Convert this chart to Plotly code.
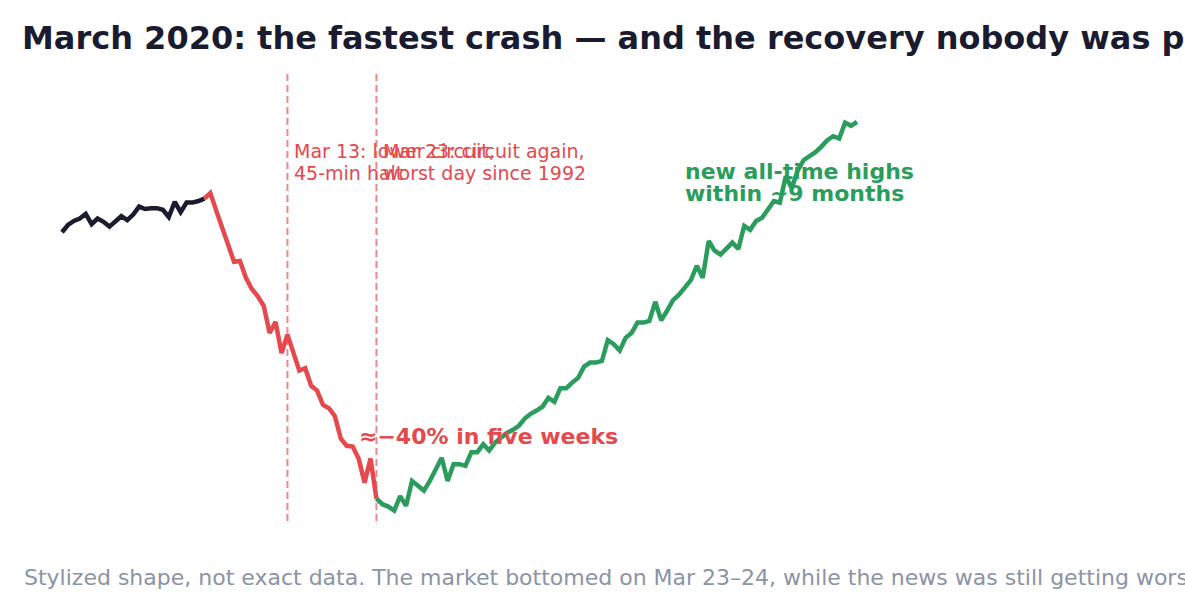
import plotly.graph_objects as go

# ---- data (stylized index level, peak = 100) ----
pre_values = [95.1, 96.0, 96.5, 96.8, 97.4, 96.1, 96.8, 96.4, 95.8, 96.4,
              97.1, 96.6, 97.3, 98.3, 98.0, 98.1, 98.1, 97.9, 97.0, 98.9,
              97.6, 98.8, 98.8, 99.0, 99.3]
crash_values = [99.3, 100.0, 97.8, 95.6, 93.5, 91.4, 91.5, 89.4, 88.0, 87.1,
                85.9, 82.5, 83.9, 80.0, 82.3, 79.9, 77.8, 78.1, 75.9, 75.3,
                73.5, 73.1, 72.1, 69.3, 68.4, 68.3, 66.8, 63.8, 66.8, 61.8]
recovery_values = [61.8, 61.1, 60.8, 60.3, 62.1, 60.9, 64.0, 63.4, 62.8, 64.0,
                   65.4, 66.9, 64.0, 66.1, 66.1, 65.9, 67.6, 67.6, 68.6, 67.8,
                   68.8, 69.4, 70.0, 70.4, 70.9, 71.8, 72.4, 72.8, 73.3, 74.4,
                   73.9, 75.6, 75.6, 76.3, 76.9, 78.3, 78.8, 78.8, 79.0, 81.6,
                   81.1, 80.3, 81.9, 82.5, 83.8, 83.8, 84.0, 86.4, 84.1, 85.3,
                   86.6, 87.3, 88.3, 89.1, 90.9, 89.4, 94.0, 92.8, 92.3, 93.0,
                   93.8, 93.0, 95.9, 95.4, 96.5, 96.9, 97.9, 99.0, 98.8, 102.1,
                   100.6, 102.8, 104.1, 104.6, 105.1, 105.8, 106.6, 107.1, 106.8, 108.8,
                   108.4, 108.9]

pre_start = 0
crash_start = pre_start + len(pre_values) - 1
recovery_start = crash_start + len(crash_values) - 1

pre_days = list(range(pre_start, pre_start + len(pre_values)))
crash_days = list(range(crash_start, crash_start + len(crash_values)))
recovery_days = list(range(recovery_start, recovery_start + len(recovery_values)))

event_days = [38, 53]
event_line1 = ["Mar 13: lower circuit,", "Mar 23: circuit again,"]
event_line2 = ["45-min halt", "worst day since 1992"]

crash_label = "≈−40% in five weeks"
crash_label_day = 50
recovery_label = ["new all-time highs", "within ~9 months"]
recovery_label_day = 105

title = "March 2020: the fastest crash — and the recovery nobody was priced for"
subtitle = ("Stylized shape, not exact data. The market bottomed on Mar 23–24, "
            "while the news was still getting worse.")

# ---- style ----
DARK = "#1b1b2f"
RED = "#e5484d"
GREEN = "#2a9d5c"
GREY = "#8b93a6"
FONT = "DejaVu Sans"

fig = go.Figure()
fig.add_trace(go.Scatter(x=pre_days, y=pre_values, mode="lines",
                         line=dict(color=DARK, width=4.5), hoverinfo="skip"))
fig.add_trace(go.Scatter(x=crash_days, y=crash_values, mode="lines",
                         line=dict(color=RED, width=4.5), hoverinfo="skip"))
fig.add_trace(go.Scatter(x=recovery_days, y=recovery_values, mode="lines",
                         line=dict(color=GREEN, width=4.5), hoverinfo="skip"))

for d in event_days:
    fig.add_shape(type="line", x0=d, x1=d, xref="x", y0=0, y1=1, yref="paper",
                  line=dict(color="rgba(229,72,77,0.65)", width=2, dash="7px,4px"),
                  layer="below")

for d, l1, l2 in zip(event_days, event_line1, event_line2):
    fig.add_annotation(x=d, y=0.8241, xref="x", yref="paper", text=l1,
                       xanchor="left", yanchor="middle", xshift=5, showarrow=False,
                       font=dict(family=FONT, size=19, color=RED))
    fig.add_annotation(x=d, y=0.7751, xref="x", yref="paper", text=l2,
                       xanchor="left", yanchor="middle", xshift=5, showarrow=False,
                       font=dict(family=FONT, size=19, color=RED))

fig.add_annotation(x=crash_label_day, y=0.1893, xref="x", yref="paper",
                   text="<b>" + crash_label + "</b>", xanchor="left", yanchor="middle",
                   xshift=-2, showarrow=False, font=dict(family=FONT, size=22, color=RED))
for ypos, txt in zip([0.7795, 0.7305], recovery_label):
    fig.add_annotation(x=recovery_label_day, y=ypos, xref="x", yref="paper",
                       text="<b>" + txt + "</b>", xanchor="left", yanchor="middle",
                       xshift=-2, showarrow=False, font=dict(family=FONT, size=22, color=GREEN))

fig.add_annotation(x=-0.0163, y=-0.1269, xref="paper", yref="paper", text=subtitle,
                   xanchor="left", yanchor="middle", showarrow=False,
                   font=dict(family=FONT, size=22, color=GREY))

fig.update_layout(
    width=1185, height=615,
    margin=dict(l=40, r=40, t=72, b=94),
    paper_bgcolor="white", plot_bgcolor="white",
    showlegend=False,
    font=dict(family=FONT),
    title=dict(text="<b>" + title + "</b>", xref="container", yref="container",
               x=22 / 1185, y=1 - 38 / 615, xanchor="left", yanchor="middle",
               font=dict(family=FONT, size=32, color=DARK)),
    xaxis=dict(range=[-3.708, 182.55], visible=False, showgrid=False, zeroline=False),
    yaxis=dict(range=[59.0, 115.125], visible=False, showgrid=False, zeroline=False),
)

fig.write_html("out.html")
